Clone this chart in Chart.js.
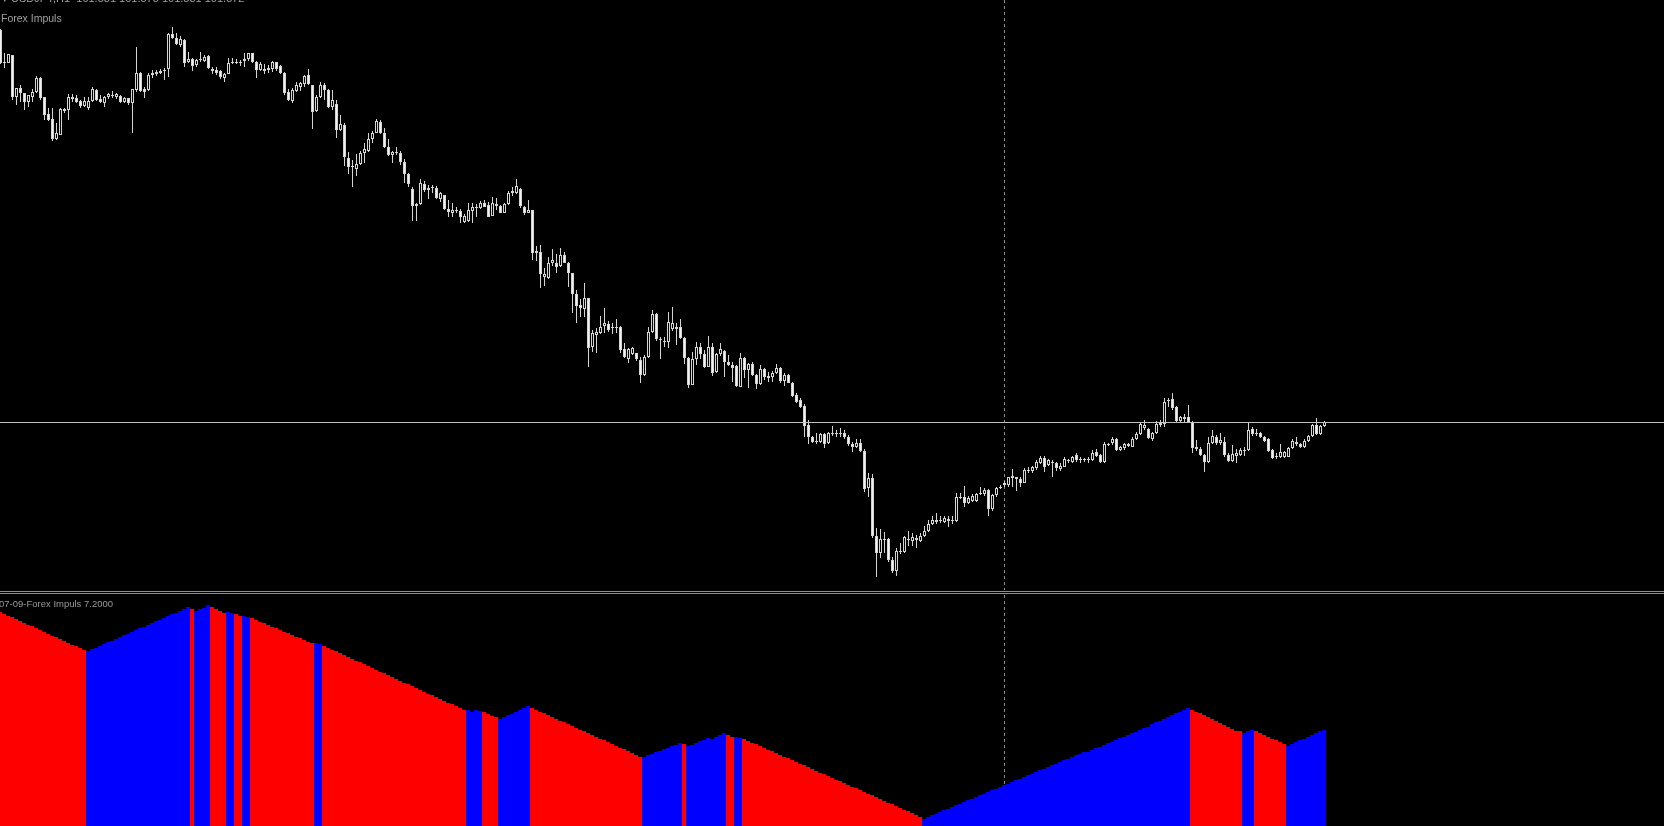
<!DOCTYPE html>
<html lang="en">
    <head>
        <meta charset="UTF-8" />
        <title>USDJPY,H1 - Forex Impuls</title>
        <script src="https://cdn.jsdelivr.net/npm/chart.js"></script>
        <style>
            html, body {
                margin: 0;
                padding: 0;
                background: #000;
                overflow: hidden;
            }
            #wrap {
                position: relative;
                width: 1664px;
                height: 826px;
                background: #000;
            }
            #mainChart {
                position: absolute;
                left: 0;
                top: 0;
            }
            #impulsChart {
                position: absolute;
                left: 0;
                top: 595px;
            }
            .sep {
                position: absolute;
                left: 0;
                width: 1664px;
                height: 1px;
                background: #8c8c8c;
            }
            .label {
                position: absolute;
                font-family: "Liberation Sans", Arial, sans-serif;
                color: #a0a0a0;
                white-space: pre;
            }
        </style>
    </head>
    <body>
        <div id="wrap">
            <canvas id="mainChart" width="1664" height="590"></canvas>
            <div class="sep" style="top: 591px"></div>
            <div class="sep" style="top: 593px"></div>
            <canvas id="impulsChart" width="1664" height="231"></canvas>
            <div class="label" style="left: 2px; top: -8px; font-size: 11px">&#9662; USDJPY,H1  101.581 101.575 101.581 101.572</div>
            <div class="label" style="left: 1px; top: 12px; font-size: 10.5px">Forex Impuls</div>
            <div class="label" style="left: -1px; top: 598px; font-size: 9.5px; color: #999">07-09-Forex Impuls 7.2000</div>
        </div>
        <script>
            // USDJPY H1 candles (oldest first)
            const openPrices = [
                105.50, 105.18, 105.17, 105.25, 104.83, 104.92, 104.87, 104.78, 104.83, 104.88,
                105.02, 104.83, 104.66, 104.61, 104.41, 104.45, 104.69, 104.70, 104.83, 104.82,
                104.79, 104.74, 104.72, 104.79, 104.90, 104.81, 104.77, 104.83, 104.85, 104.83,
                104.84, 104.78, 104.82, 104.77, 104.90, 105.07, 104.91, 104.90, 105.05, 105.06,
                105.07, 105.09, 105.11, 105.46, 105.42, 105.35, 105.40, 105.18, 105.21, 105.15,
                105.20, 105.19, 105.24, 105.11, 105.10, 105.09, 105.02, 105.06, 105.17, 105.18,
                105.17, 105.19, 105.21, 105.27, 105.18, 105.10, 105.11, 105.10, 105.11, 105.18,
                105.14, 105.07, 104.88, 104.79, 104.89, 104.93, 104.96, 105.05, 104.95, 104.69,
                104.83, 104.95, 104.90, 104.73, 104.76, 104.50, 104.55, 104.22, 104.14, 104.11,
                104.16, 104.27, 104.29, 104.41, 104.47, 104.58, 104.47, 104.33, 104.25, 104.28,
                104.27, 104.18, 104.06, 103.91, 103.74, 103.76, 103.96, 103.90, 103.92, 103.92,
                103.81, 103.85, 103.71, 103.67, 103.70, 103.69, 103.58, 103.59, 103.69, 103.73,
                103.72, 103.77, 103.75, 103.64, 103.76, 103.74, 103.67, 103.76, 103.87, 103.87,
                103.91, 103.73, 103.67, 103.70, 103.29, 103.28, 103.03, 103.02, 103.17, 103.17,
                103.14, 103.25, 103.17, 103.07, 102.86, 102.75, 102.71, 102.82, 102.33, 102.45,
                102.47, 102.54, 102.56, 102.53, 102.52, 102.53, 102.31, 102.21, 102.26, 102.27,
                102.20, 102.05, 102.23, 102.48, 102.66, 102.41, 102.39, 102.38, 102.51, 102.53,
                102.53, 102.42, 102.22, 101.95, 102.21, 102.33, 102.26, 102.13, 102.33, 102.08,
                102.26, 102.29, 102.18, 102.15, 102.14, 101.93, 102.22, 102.10, 102.16, 102.05,
                101.96, 102.11, 102.04, 102.03, 102.07, 102.12, 101.99, 102.05, 101.97, 101.85,
                101.80, 101.74, 101.55, 101.43, 101.39, 101.38, 101.46, 101.37, 101.47, 101.46,
                101.46, 101.47, 101.43, 101.36, 101.33, 101.37, 101.29, 100.92, 101.02, 100.44,
                100.27, 100.41, 100.41, 100.20, 100.09, 100.29, 100.28, 100.41, 100.39, 100.42,
                100.39, 100.44, 100.49, 100.56, 100.60, 100.59, 100.58, 100.61, 100.59, 100.59,
                100.83, 100.83, 100.77, 100.79, 100.79, 100.87, 100.86, 100.90, 100.71, 100.85,
                100.92, 100.95, 100.95, 101.02, 101.03, 101.01, 100.97, 101.10, 101.09, 101.12,
                101.17, 101.22, 101.15, 101.18, 101.17, 101.11, 101.13, 101.20, 101.18, 101.25,
                101.21, 101.21, 101.20, 101.20, 101.28, 101.25, 101.18, 101.36, 101.37, 101.41,
                101.30, 101.32, 101.36, 101.33, 101.41, 101.46, 101.52, 101.51, 101.41, 101.47,
                101.55, 101.56, 101.80, 101.81, 101.73, 101.59, 101.63, 101.63, 101.58, 101.33,
                101.31, 101.25, 101.18, 101.37, 101.43, 101.37, 101.38, 101.25, 101.19, 101.24,
                101.25, 101.29, 101.30, 101.51, 101.47, 101.47, 101.43, 101.41, 101.30, 101.24,
                101.23, 101.23, 101.23, 101.32, 101.38, 101.36, 101.33, 101.39, 101.44, 101.55,
                101.46, 101.54
            ];
            const highPrices = [
                105.51, 105.27, 105.26, 105.25, 104.92, 104.95, 104.87, 104.85, 104.91, 105.04,
                105.03, 104.83, 104.72, 104.72, 104.57, 104.72, 104.72, 104.86, 104.86, 104.85,
                104.80, 104.83, 104.83, 104.93, 104.91, 104.85, 104.84, 104.87, 104.89, 104.87,
                104.85, 104.83, 104.82, 104.91, 105.33, 105.08, 104.93, 105.07, 105.10, 105.10,
                105.11, 105.12, 105.47, 105.53, 105.47, 105.44, 105.41, 105.28, 105.22, 105.21,
                105.28, 105.25, 105.25, 105.13, 105.13, 105.10, 105.07, 105.22, 105.22, 105.21,
                105.20, 105.27, 105.27, 105.27, 105.19, 105.18, 105.16, 105.15, 105.19, 105.18,
                105.15, 105.08, 104.91, 104.92, 104.98, 104.98, 105.05, 105.11, 104.95, 104.85,
                104.98, 104.97, 104.91, 104.90, 104.80, 104.65, 104.57, 104.28, 104.20, 104.26,
                104.29, 104.37, 104.47, 104.49, 104.61, 104.60, 104.52, 104.41, 104.29, 104.33,
                104.29, 104.21, 104.07, 103.93, 103.77, 104.01, 103.99, 103.95, 103.95, 103.94,
                103.88, 103.85, 103.80, 103.77, 103.73, 103.71, 103.66, 103.77, 103.77, 103.76,
                103.79, 103.80, 103.78, 103.83, 103.82, 103.75, 103.77, 103.89, 103.93, 104.01,
                103.92, 103.74, 103.80, 103.70, 103.34, 103.35, 103.12, 103.23, 103.31, 103.26,
                103.32, 103.28, 103.18, 103.07, 102.90, 102.81, 102.97, 102.82, 102.50, 102.52,
                102.64, 102.72, 102.59, 102.57, 102.61, 102.54, 102.37, 102.32, 102.33, 102.27,
                102.23, 102.25, 102.53, 102.70, 102.67, 102.43, 102.43, 102.68, 102.73, 102.57,
                102.61, 102.43, 102.23, 102.28, 102.38, 102.37, 102.30, 102.44, 102.37, 102.27,
                102.37, 102.30, 102.25, 102.18, 102.15, 102.27, 102.23, 102.17, 102.18, 102.06,
                102.15, 102.12, 102.08, 102.09, 102.16, 102.13, 102.07, 102.06, 101.98, 101.87,
                101.82, 101.76, 101.60, 101.44, 101.47, 101.47, 101.47, 101.48, 101.54, 101.50,
                101.52, 101.50, 101.45, 101.38, 101.41, 101.41, 101.31, 101.07, 101.06, 100.52,
                100.51, 100.48, 100.42, 100.23, 100.32, 100.37, 100.44, 100.49, 100.47, 100.45,
                100.47, 100.54, 100.60, 100.64, 100.67, 100.64, 100.64, 100.64, 100.64, 100.87,
                100.87, 100.94, 100.84, 100.86, 100.87, 100.93, 100.92, 100.91, 100.86, 100.93,
                100.95, 100.99, 101.03, 101.11, 101.03, 101.03, 101.12, 101.13, 101.14, 101.20,
                101.24, 101.24, 101.21, 101.20, 101.18, 101.17, 101.23, 101.21, 101.24, 101.27,
                101.23, 101.22, 101.23, 101.30, 101.31, 101.26, 101.38, 101.37, 101.43, 101.42,
                101.34, 101.37, 101.37, 101.43, 101.48, 101.57, 101.60, 101.52, 101.48, 101.59,
                101.60, 101.82, 101.82, 101.87, 101.74, 101.64, 101.66, 101.75, 101.59, 101.40,
                101.33, 101.26, 101.43, 101.50, 101.45, 101.47, 101.43, 101.27, 101.35, 101.31,
                101.32, 101.33, 101.57, 101.53, 101.51, 101.48, 101.44, 101.42, 101.31, 101.27,
                101.36, 101.29, 101.33, 101.41, 101.43, 101.37, 101.41, 101.45, 101.56, 101.62,
                101.55, 101.59
            ];
            const lowPrices = [
                105.16, 105.12, 105.17, 104.80, 104.75, 104.78, 104.70, 104.73, 104.78, 104.87,
                104.80, 104.60, 104.59, 104.39, 104.40, 104.45, 104.67, 104.60, 104.78, 104.77,
                104.72, 104.73, 104.70, 104.78, 104.79, 104.77, 104.73, 104.81, 104.82, 104.81,
                104.77, 104.77, 104.75, 104.47, 104.88, 104.88, 104.82, 104.89, 105.02, 105.04,
                105.06, 105.00, 105.03, 105.41, 105.35, 105.33, 105.13, 105.17, 105.09, 105.13,
                105.18, 105.18, 105.11, 105.06, 105.05, 105.01, 104.98, 105.06, 105.16, 105.16,
                105.14, 105.13, 105.19, 105.17, 105.02, 105.09, 105.06, 105.07, 105.08, 105.09,
                105.06, 104.85, 104.79, 104.77, 104.88, 104.89, 104.93, 104.95, 104.51, 104.68,
                104.82, 104.80, 104.72, 104.70, 104.42, 104.49, 104.14, 104.06, 103.93, 104.04,
                104.15, 104.17, 104.28, 104.37, 104.47, 104.46, 104.32, 104.24, 104.17, 104.25,
                104.15, 103.97, 103.93, 103.59, 103.59, 103.75, 103.88, 103.81, 103.87, 103.81,
                103.78, 103.70, 103.63, 103.63, 103.67, 103.57, 103.57, 103.58, 103.57, 103.63,
                103.71, 103.73, 103.63, 103.64, 103.70, 103.67, 103.67, 103.75, 103.84, 103.86,
                103.72, 103.65, 103.67, 103.20, 103.19, 102.92, 102.94, 103.01, 103.14, 103.07,
                103.13, 103.17, 102.93, 102.67, 102.57, 102.63, 102.63, 102.13, 102.28, 102.27,
                102.46, 102.47, 102.48, 102.46, 102.47, 102.27, 102.22, 102.17, 102.25, 102.19,
                101.97, 102.04, 102.22, 102.47, 102.39, 102.21, 102.33, 102.32, 102.49, 102.35,
                102.41, 102.16, 101.92, 101.95, 102.15, 102.21, 102.12, 102.13, 102.04, 102.07,
                102.24, 102.03, 102.14, 101.98, 101.93, 101.93, 102.02, 101.92, 102.04, 101.91,
                101.95, 102.00, 101.98, 101.98, 102.06, 101.97, 101.94, 101.97, 101.83, 101.77,
                101.72, 101.43, 101.36, 101.37, 101.36, 101.37, 101.32, 101.36, 101.44, 101.43,
                101.43, 101.41, 101.34, 101.28, 101.32, 101.28, 100.88, 100.83, 100.42, 100.03,
                100.22, 100.27, 100.18, 100.07, 100.04, 100.26, 100.27, 100.34, 100.34, 100.32,
                100.38, 100.43, 100.48, 100.55, 100.56, 100.57, 100.57, 100.53, 100.56, 100.58,
                100.81, 100.73, 100.76, 100.78, 100.78, 100.85, 100.84, 100.64, 100.69, 100.83,
                100.91, 100.93, 100.93, 100.93, 100.89, 100.93, 100.97, 101.07, 101.07, 101.10,
                101.16, 101.08, 101.14, 101.03, 101.09, 101.09, 101.13, 101.17, 101.17, 101.18,
                101.17, 101.18, 101.17, 101.19, 101.23, 101.17, 101.17, 101.34, 101.35, 101.29,
                101.29, 101.30, 101.33, 101.33, 101.40, 101.45, 101.50, 101.41, 101.39, 101.46,
                101.53, 101.53, 101.73, 101.70, 101.57, 101.57, 101.58, 101.57, 101.27, 101.29,
                101.24, 101.08, 101.17, 101.36, 101.35, 101.35, 101.23, 101.18, 101.18, 101.17,
                101.24, 101.24, 101.29, 101.44, 101.44, 101.42, 101.38, 101.28, 101.21, 101.21,
                101.22, 101.22, 101.23, 101.31, 101.34, 101.32, 101.32, 101.38, 101.43, 101.45,
                101.45, 101.53
            ];
            const closePrices = [
                105.17, 105.17, 105.26, 104.83, 104.92, 104.87, 104.78, 104.85, 104.88, 105.02,
                104.82, 104.65, 104.60, 104.41, 104.47, 104.71, 104.71, 104.83, 104.81, 104.78,
                104.74, 104.79, 104.79, 104.91, 104.80, 104.78, 104.83, 104.86, 104.84, 104.86,
                104.78, 104.82, 104.77, 104.91, 105.07, 104.89, 104.88, 105.05, 105.07, 105.08,
                105.09, 105.10, 105.46, 105.42, 105.36, 105.41, 105.17, 105.21, 105.14, 105.20,
                105.21, 105.23, 105.12, 105.09, 105.07, 105.03, 105.06, 105.17, 105.18, 105.17,
                105.18, 105.21, 105.27, 105.18, 105.10, 105.16, 105.09, 105.12, 105.18, 105.11,
                105.07, 104.87, 104.80, 104.90, 104.95, 104.97, 105.04, 104.96, 104.68, 104.83,
                104.95, 104.90, 104.73, 104.80, 104.50, 104.56, 104.23, 104.13, 104.13, 104.16,
                104.27, 104.31, 104.41, 104.47, 104.59, 104.47, 104.33, 104.25, 104.28, 104.27,
                104.18, 104.06, 103.96, 103.74, 103.76, 103.97, 103.90, 103.92, 103.92, 103.82,
                103.87, 103.71, 103.68, 103.70, 103.69, 103.63, 103.64, 103.70, 103.73, 103.72,
                103.77, 103.73, 103.63, 103.77, 103.74, 103.67, 103.76, 103.87, 103.89, 103.94,
                103.74, 103.67, 103.70, 103.27, 103.27, 103.06, 103.06, 103.17, 103.20, 103.13,
                103.25, 103.17, 103.07, 102.86, 102.74, 102.72, 102.82, 102.32, 102.47, 102.48,
                102.53, 102.57, 102.50, 102.52, 102.53, 102.30, 102.23, 102.31, 102.32, 102.21,
                102.05, 102.23, 102.48, 102.66, 102.41, 102.40, 102.38, 102.58, 102.57, 102.51,
                102.42, 102.22, 101.95, 102.21, 102.33, 102.26, 102.13, 102.33, 102.07, 102.26,
                102.31, 102.18, 102.15, 102.12, 101.94, 102.22, 102.10, 102.16, 102.05, 101.96,
                102.11, 102.03, 102.02, 102.07, 102.12, 101.99, 102.05, 101.97, 101.84, 101.78,
                101.73, 101.54, 101.43, 101.38, 101.38, 101.46, 101.36, 101.47, 101.46, 101.46,
                101.47, 101.43, 101.36, 101.33, 101.37, 101.29, 100.91, 101.02, 100.44, 100.27,
                100.41, 100.40, 100.20, 100.09, 100.29, 100.28, 100.43, 100.40, 100.43, 100.40,
                100.44, 100.49, 100.56, 100.60, 100.58, 100.60, 100.62, 100.59, 100.60, 100.83,
                100.82, 100.77, 100.82, 100.84, 100.86, 100.86, 100.90, 100.71, 100.85, 100.92,
                100.93, 100.97, 101.03, 101.04, 101.01, 100.97, 101.10, 101.09, 101.13, 101.18,
                101.22, 101.13, 101.20, 101.17, 101.12, 101.14, 101.21, 101.19, 101.23, 101.20,
                101.20, 101.20, 101.21, 101.27, 101.24, 101.18, 101.36, 101.35, 101.41, 101.30,
                101.33, 101.36, 101.34, 101.41, 101.46, 101.56, 101.55, 101.42, 101.47, 101.56,
                101.57, 101.78, 101.79, 101.72, 101.59, 101.63, 101.61, 101.58, 101.32, 101.31,
                101.25, 101.18, 101.37, 101.44, 101.37, 101.40, 101.25, 101.19, 101.26, 101.27,
                101.30, 101.30, 101.50, 101.46, 101.46, 101.43, 101.39, 101.29, 101.22, 101.23,
                101.28, 101.28, 101.32, 101.39, 101.36, 101.33, 101.39, 101.44, 101.55, 101.46,
                101.54, 101.58
            ];

            // Forex Impuls histogram: value per bar and runs of direction (1 = up/blue, -1 = down/red)
            const impulsValues = [
                21.4, 21.2, 21.0, 20.9, 20.7, 20.5, 20.3, 20.1, 20.0, 19.8,
                19.6, 19.4, 19.2, 19.0, 18.9, 18.7, 18.5, 18.3, 18.1, 18.0,
                17.8, 17.6, 17.5, 17.7, 17.8, 18.0, 18.2, 18.4, 18.5, 18.7,
                18.9, 19.1, 19.2, 19.4, 19.6, 19.8, 19.9, 20.1, 20.3, 20.5,
                20.6, 20.8, 21.0, 21.2, 21.3, 21.5, 21.7, 21.9, 21.7, 21.5,
                21.7, 21.8, 22.1, 21.9, 21.7, 21.5, 21.3, 21.4, 21.3, 21.2,
                21.0, 21.0, 20.9, 20.8, 20.6, 20.4, 20.3, 20.1, 19.9, 19.8,
                19.6, 19.4, 19.3, 19.1, 18.9, 18.8, 18.6, 18.4, 18.3, 18.3,
                18.2, 18.0, 17.8, 17.6, 17.5, 17.3, 17.1, 16.9, 16.7, 16.5,
                16.4, 16.2, 16.0, 15.8, 15.6, 15.4, 15.3, 15.1, 14.9, 14.7,
                14.5, 14.3, 14.2, 14.0, 13.8, 13.6, 13.4, 13.2, 13.1, 12.9,
                12.7, 12.5, 12.3, 12.2, 12.0, 11.8, 11.6, 11.6, 11.4, 11.6,
                11.5, 11.4, 11.2, 11.0, 10.9, 10.7, 10.9, 11.1, 11.2, 11.4,
                11.6, 11.8, 12.0, 11.8, 11.6, 11.4, 11.3, 11.1, 10.9, 10.7,
                10.5, 10.4, 10.2, 10.0, 9.8, 9.6, 9.5, 9.3, 9.1, 8.9,
                8.7, 8.6, 8.4, 8.2, 8.0, 7.8, 7.7, 7.5, 7.3, 7.1,
                6.9, 6.9, 7.1, 7.2, 7.4, 7.5, 7.7, 7.8, 8.0, 8.1,
                8.3, 8.2, 8.0, 8.1, 8.3, 8.5, 8.6, 8.8, 8.7, 8.9,
                9.1, 9.3, 9.1, 8.9, 8.9, 8.8, 8.7, 8.5, 8.3, 8.2,
                8.0, 7.8, 7.6, 7.5, 7.3, 7.1, 6.9, 6.8, 6.6, 6.4,
                6.2, 6.1, 5.9, 5.7, 5.5, 5.3, 5.2, 5.0, 4.8, 4.6,
                4.5, 4.3, 4.1, 3.9, 3.8, 3.6, 3.4, 3.2, 3.1, 2.9,
                2.7, 2.5, 2.3, 2.2, 2.0, 1.8, 1.6, 1.5, 1.3, 1.1,
                0.9, 0.7, 0.9, 1.1, 1.2, 1.4, 1.6, 1.7, 1.9, 2.1,
                2.2, 2.4, 2.6, 2.7, 2.9, 3.1, 3.2, 3.4, 3.6, 3.7,
                3.9, 4.1, 4.2, 4.4, 4.6, 4.7, 4.9, 5.1, 5.2, 5.4,
                5.6, 5.7, 5.9, 6.1, 6.2, 6.4, 6.6, 6.7, 6.9, 7.1,
                7.2, 7.4, 7.4, 7.6, 7.8, 7.9, 8.1, 8.3, 8.4, 8.6,
                8.8, 8.9, 9.1, 9.3, 9.4, 9.6, 9.8, 9.9, 10.2, 10.4,
                10.5, 10.7, 10.9, 11.1, 11.3, 11.4, 11.6, 11.8, 11.6, 11.4,
                11.3, 11.1, 10.9, 10.7, 10.5, 10.3, 10.1, 9.9, 9.7, 9.5,
                9.5, 9.3, 9.5, 9.6, 9.5, 9.3, 9.1, 8.9, 8.7, 8.6,
                8.4, 8.2, 8.0, 8.2, 8.4, 8.6, 8.7, 8.9, 9.1, 9.3,
                9.5, 9.6
            ];
            const impulsRuns = [
                [-1, 22], [1, 26], [-1, 1], [1, 4], [-1, 4], [1, 2], [-1, 2], [1, 2],
                [-1, 16], [1, 2], [-1, 36], [1, 4], [-1, 4], [1, 8], [-1, 28], [1, 10],
                [-1, 1], [1, 10], [-1, 2], [1, 2], [-1, 45], [1, 67], [-1, 13], [1, 3],
                [-1, 8], [1, 10]
            ];

            const bidPrice = 101.58;
            const markerBar = 251;

            const CANDLE = "#d4d4d4";
            const BEAR_FILL = "#f2f2f2";
            const UP = "#0000ff";
            const DOWN = "#ff0000";

            // MT4-style lines: dashed vertical marker + bid line
            const mtLines = {
                id: "mtLines",
                beforeDatasetsDraw(chart, args, opts) {
                    if (opts.vLine == null) return;
                    const ctx = chart.ctx;
                    const area = chart.chartArea;
                    const px = Math.floor(chart.scales.x.getPixelForValue(opts.vLine)) + 0.5;
                    ctx.save();
                    ctx.strokeStyle = "#8c8c8c";
                    ctx.lineWidth = 1;
                    ctx.setLineDash([3, 3]);
                    ctx.beginPath();
                    ctx.moveTo(px, area.top);
                    ctx.lineTo(px, area.bottom);
                    ctx.stroke();
                    ctx.restore();
                },
                afterDatasetsDraw(chart, args, opts) {
                    if (opts.hLine == null) return;
                    const ctx = chart.ctx;
                    const area = chart.chartArea;
                    const py = Math.round(chart.scales.y.getPixelForValue(opts.hLine)) + 0.5;
                    ctx.save();
                    ctx.strokeStyle = "#c0c0c0";
                    ctx.lineWidth = 1;
                    ctx.beginPath();
                    ctx.moveTo(area.left, py);
                    ctx.lineTo(area.right, py);
                    ctx.stroke();
                    ctx.restore();
                },
            };

            const flat = {
                responsive: false,
                animation: false,
                events: [],
                layout: { padding: 0 },
                plugins: {
                    legend: { display: false },
                    tooltip: { enabled: false },
                },
            };

            // main window: candles as floating bars (wicks + bodies)
            const wickData = highPrices.map((h, i) => ({ x: i, y: [lowPrices[i], h] }));
            const bodyData = openPrices.map((o, i) => ({ x: i, y: [o, closePrices[i]] }));
            const bodyFill = openPrices.map((o, i) => (closePrices[i] < o ? BEAR_FILL : "#000000"));

            new Chart(document.getElementById("mainChart"), {
                type: "bar",
                data: {
                    datasets: [
                        {
                            label: "wicks",
                            data: wickData,
                            backgroundColor: CANDLE,
                            barThickness: 1,
                            grouped: false,
                            inflateAmount: 0,
                            order: 2,
                        },
                        {
                            label: "bodies",
                            data: bodyData,
                            backgroundColor: bodyFill,
                            borderColor: CANDLE,
                            borderWidth: 1,
                            borderSkipped: false,
                            barThickness: 3,
                            minBarLength: 1,
                            grouped: false,
                            inflateAmount: 0,
                            order: 1,
                        },
                    ],
                },
                options: {
                    ...flat,
                    plugins: {
                        ...flat.plugins,
                        mtLines: { vLine: markerBar, hLine: bidPrice },
                    },
                    scales: {
                        x: { type: "linear", min: -0.125, max: 415.875, offset: false, display: false },
                        y: { type: "linear", min: 99.9, max: 105.8, display: false },
                    },
                },
                plugins: [mtLines],
            });

            // indicator window: Forex Impuls histogram
            const impulsColors = [];
            impulsRuns.forEach(([dir, n]) => {
                for (let k = 0; k < n; k++) impulsColors.push(dir > 0 ? UP : DOWN);
            });

            new Chart(document.getElementById("impulsChart"), {
                type: "bar",
                data: {
                    datasets: [
                        {
                            label: "Forex Impuls",
                            data: impulsValues.map((v, i) => ({ x: i, y: v })),
                            backgroundColor: impulsColors,
                            barThickness: 4,
                            grouped: false,
                            inflateAmount: 0,
                        },
                    ],
                },
                options: {
                    ...flat,
                    plugins: {
                        ...flat.plugins,
                        mtLines: { vLine: markerBar },
                    },
                    scales: {
                        x: { type: "linear", min: 0, max: 416, offset: false, display: false },
                        y: { type: "linear", min: 0, max: 23.1, display: false },
                    },
                },
                plugins: [mtLines],
            });
        </script>
    </body>
</html>
